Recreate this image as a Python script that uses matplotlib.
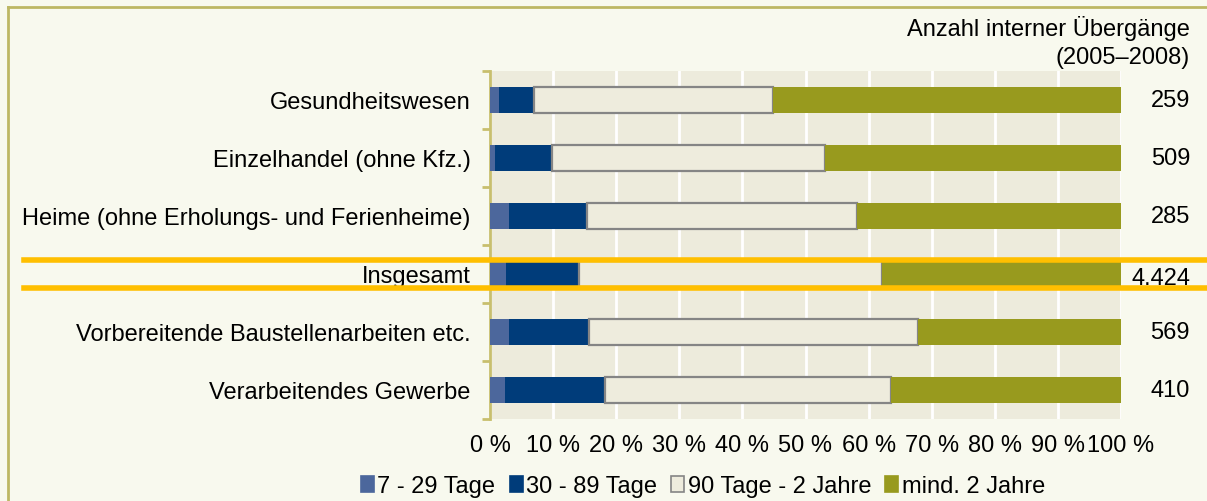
import matplotlib
matplotlib.use("Agg")
import matplotlib.pyplot as plt
import matplotlib.transforms as mtransforms
from matplotlib.lines import Line2D
from matplotlib.patches import Patch
import numpy as np

plt.rcParams['font.family'] = ['Liberation Sans', 'DejaVu Sans']

categories = ["Gesundheitswesen", "Einzelhandel (ohne Kfz.)",
              "Heime (ohne Erholungs- und Ferienheime)", "Insgesamt",
              "Vorbereitende Baustellenarbeiten etc.", "Verarbeitendes Gewerbe"]
counts = ["259", "509", "285", "4.424", "569", "410"]
s_7_29 = [1.4, 0.8, 3.0, 2.6, 3.0, 2.3]
s_30_89 = [5.5, 9.1, 12.3, 11.5, 12.7, 15.9]
s_90_2j = [38.0, 43.2, 42.8, 48.1, 52.2, 45.3]
s_2j = [55.1, 46.9, 41.9, 37.8, 32.1, 36.5]
series_names = ["7 - 29 Tage", "30 - 89 Tage", "90 Tage - 2 Jahre", "mind. 2 Jahre"]
xticks = [0, 10, 20, 30, 40, 50, 60, 70, 80, 90, 100]
highlight = "Insgesamt"

colors = ["#4C679C", "#003C7A", "#EEECDD", "#989A1E"]
edges = [None, None, "#858585", None]
FS = 17

fig = plt.figure(figsize=(12.07, 5.02), dpi=100)
fig.patch.set_facecolor("#F8F9EE")
ax = fig.add_axes([490/1207, 1-420/502, (1121-490)/1207, (420-72)/502])
ax.set_facecolor("#EDEBDC")

y = np.arange(len(categories))
left = np.zeros(len(categories))
data = [s_7_29, s_30_89, s_90_2j, s_2j]
for vals, c, e in zip(data, colors, edges):
    vals = np.array(vals)
    if e:
        ax.barh(y, vals, left=left, height=0.44, color=c, edgecolor=e, linewidth=1.6, zorder=3)
    else:
        ax.barh(y, vals, left=left, height=0.44, color=c, linewidth=0, zorder=3)
    left = left + vals

ax.set_xlim(0, 100)
ax.set_ylim(len(categories)-0.5, -0.5)
ax.set_xticks(xticks)
ax.set_xticklabels([f"{t} %" for t in xticks], fontsize=FS)
ax.tick_params(axis='x', length=0, pad=11)
ax.xaxis.grid(True, color="white", linewidth=2, zorder=0)
ax.set_axisbelow(True)

ax.set_yticks(y)
ax.set_yticklabels(categories, fontsize=FS)
ax.set_yticks(np.arange(-0.5, len(categories)), minor=True)
ax.tick_params(axis='y', which='major', length=0, pad=14)
ax.tick_params(axis='y', which='minor', length=6, width=2, color="#C8BF6E", direction='out')
for s in ["top", "right", "bottom"]:
    ax.spines[s].set_visible(False)
ax.spines["left"].set_color("#C8BF6E")
ax.spines["left"].set_linewidth(2)

# count labels
trans_txt = mtransforms.blended_transform_factory(fig.transFigure, ax.transData)
for i, c in enumerate(counts):
    off = 0.07 if categories[i] == highlight else 0.0
    ax.text(1190/1207, i + off, c, transform=trans_txt, ha='right', va='center', fontsize=FS)

fig.text(1190/1207, 1-29/502, "Anzahl interner Übergänge", ha='right', va='center', fontsize=FS)
fig.text(1190/1207, 1-58/502, "(2005–2008)", ha='right', va='center', fontsize=FS)

# highlight lines around Insgesamt
hi = categories.index(highlight)
for dy in (-0.235, 0.235):
    fig.add_artist(Line2D([24/1207, 1.0], [hi + dy, hi + dy], transform=trans_txt,
                          color="#FFBF00", linewidth=4, zorder=10))

# figure border (top & left)
fig.add_artist(Line2D([8/1207, 8/1207], [0, 1-8/502], transform=fig.transFigure, color="#BDB764", linewidth=2))
fig.add_artist(Line2D([8/1207, 1], [1-8/502, 1-8/502], transform=fig.transFigure, color="#BDB764", linewidth=2))

handles = [Patch(facecolor=c, edgecolor=(e if e else c), linewidth=1.2) for c, e in zip(colors, edges)]
leg = fig.legend(handles, series_names, loc='center', bbox_to_anchor=(703/1207, 1-487/502),
                 ncol=4, frameon=False, fontsize=FS, handlelength=0.55, handleheight=0.65,
                 handletextpad=0.15, columnspacing=0.6)

fig.savefig("out.png", dpi=100, facecolor=fig.get_facecolor())
